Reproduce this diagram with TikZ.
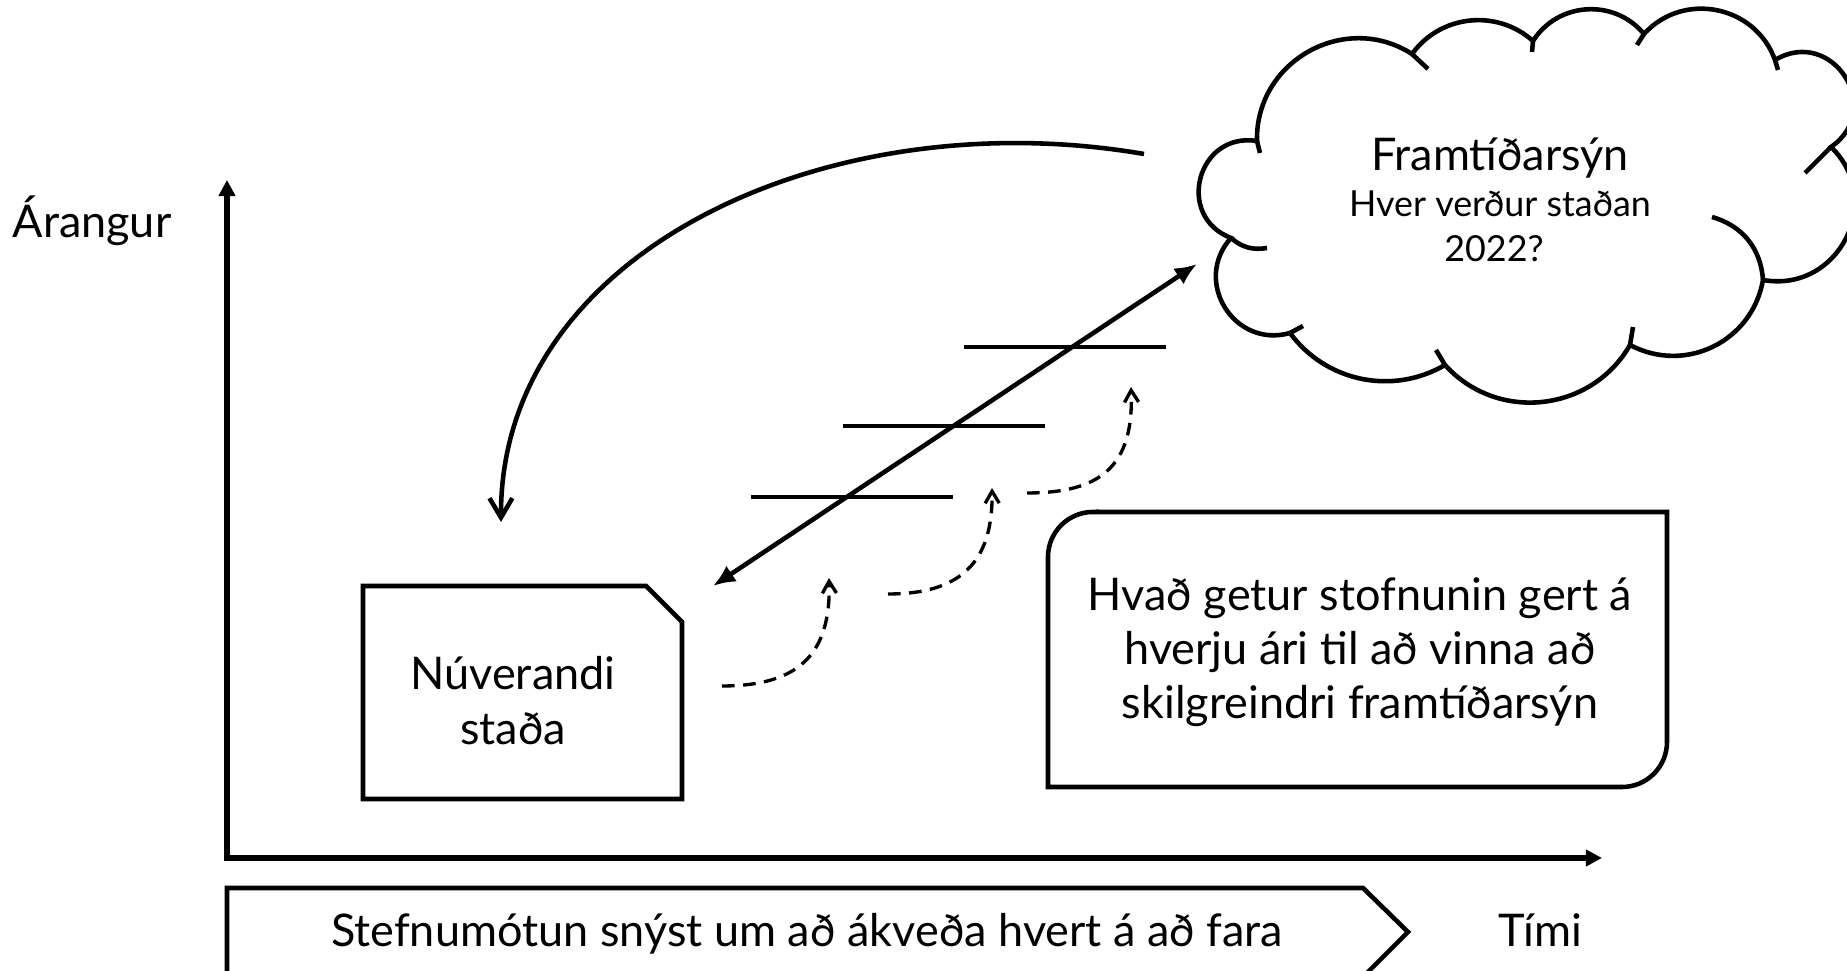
\documentclass[tikz,border=0pt]{standalone}
\usepackage{fontspec}
\setmainfont{Lato}
\usetikzlibrary{arrows.meta}
\begin{document}
\begin{tikzpicture}[x=0.01cm, y=0.01cm,
  axisline/.style={line width=1.7pt},
  shapeline/.style={line width=1.3pt},
  dashline/.style={line width=0.95pt, dash pattern=on 3.6pt off 2.4pt},
  lbl/.style={font=\fontsize{12.8}{15.4}\selectfont, inner sep=0pt, anchor=base},
  lblsmall/.style={font=\fontsize{10.2}{12.8}\selectfont, inner sep=0pt, anchor=base}]
\useasboundingbox (0,0) rectangle (1847,-971);
\clip (0,0) rectangle (1847,-971);

% axes
\coordinate (O) at (227,-858);
\coordinate (Ytop) at (227,-180);
\coordinate (Xend) at (1602,-858);
\draw[axisline, line join=miter, {Triangle[length=4.6pt,width=4.6pt]}-{Triangle[length=4.6pt,width=4.6pt]}] (Ytop) -- (O) -- (Xend);

% bottom pentagon
\draw[shapeline] (227,-888) -- (1363,-888) -- (1408,-932) -- (1364,-976) -- (227,-976) -- cycle;

% cloud
\draw[shapeline, fill=white] (1231,-238)
  to[bend left=84, looseness=1.54] (1257,-141)
  to[bend left=62, looseness=1.15] (1412,-54)
  to[bend left=48, looseness=1.02] (1533,-41)
  to[bend left=54, looseness=1.07] (1644,-34)
  to[bend left=59, looseness=1.12] (1775,-60)
  to[bend left=88, looseness=1.65] (1831,-147)
  to[bend left=73, looseness=1.31] (1763,-280)
  to[bend left=54, looseness=1.08] (1630,-345)
  to[bend left=54, looseness=1.07] (1445,-365)
  to[bend left=42, looseness=0.98] (1290,-333)
  to[bend left=74, looseness=1.33] (1231,-238) -- cycle;
% cloud inner ticks
\draw[shapeline] (1257,-141) -- (1260,-153);
\draw[shapeline] (1412,-54) -- (1428,-69);
\draw[shapeline] (1533,-41) -- (1532,-52);
\draw[shapeline] (1644,-34) -- (1637,-45);
\draw[shapeline] (1775,-60) -- (1778,-70);
\draw[shapeline] (1831,-147) -- (1805,-173);
\draw[shapeline] (1763,-280) to[bend right=35] (1712,-217);
\draw[shapeline] (1630,-345) -- (1633,-327);
\draw[shapeline] (1445,-365) -- (1436,-350);
\draw[shapeline] (1290,-333) -- (1303,-326);
\draw[shapeline] (1231,-238) to[bend right=25] (1267,-248);

% current state box
\draw[shapeline] (363,-586) -- (646,-586) -- (682,-622) -- (682,-799) -- (363,-799) -- cycle;

% rounded text box
\draw[shapeline] (1093,-512) -- (1667,-512) -- (1667,-742)
  arc[start angle=0, end angle=-90, radius=0.45cm] -- (1048,-787) -- (1048,-557)
  arc[start angle=180, end angle=90, radius=0.45cm] -- cycle;

% stairs
\draw[shapeline] (964,-347) -- (1166,-347);
\draw[shapeline] (843,-426) -- (1045,-426);
\draw[shapeline] (751,-497) -- (953,-497);

% diagonal double arrow
\coordinate (DA) at (1197,-264);
\coordinate (DB) at (713,-586);
\draw[shapeline, {Latex[length=6.3pt,width=5.4pt]}-{Latex[length=6.3pt,width=5.4pt]}] (DA) -- (DB);

% big curved arrow
\coordinate (CA) at (1144,-154);
\coordinate (CB) at (501,-522);
\draw[shapeline, -{Straight Barb[length=5.5pt,width=6.5pt]}] (CA) .. controls (830,-100) and (500,-250) .. (CB);

% dashed arrows
\coordinate (d1s) at (722,-686);
\coordinate (d1e) at (829,-578);
\coordinate (d2s) at (888,-594);
\coordinate (d2e) at (992,-488);
\coordinate (d3s) at (1027,-493);
\coordinate (d3e) at (1131,-387);
\draw[dashline, -{Straight Barb[length=3.4pt,width=4pt]}] (d1s) .. controls (799,-686) and (831,-654) .. (d1e);
\draw[dashline, -{Straight Barb[length=3.4pt,width=4pt]}] (d2s) .. controls (961,-594) and (993,-562) .. (d2e);
\draw[dashline, -{Straight Barb[length=3.4pt,width=4pt]}] (d3s) .. controls (1100,-493) and (1134,-467) .. (d3e);

% texts
\node[lbl] (arangur) at (92,-238) {Árangur};
\node[lbl] (framt) at (1500,-171) {Framtíðarsýn};
\node[lblsmall] (hver) at (1500,-217) {Hver verður staðan};
\node[lblsmall] (ar) at (1494,-262) {2022?};
\node[lbl] (nuv1) at (513,-690) {Núverandi};
\node[lbl] (nuv2) at (513,-745) {staða};
\node[lbl] (hv1) at (1360,-611) {Hvað getur stofnunin gert á};
\node[lbl] (hv2) at (1360,-665) {hverju ári til að vinna að};
\node[lbl] (hv3) at (1360,-719) {skilgreindri framtíðarsýn};
\node[lbl] (stef) at (807,-947) {Stefnumótun snýst um að ákveða hvert á að fara};
\node[lbl] (timi) at (1540,-947) {Tími};
\end{tikzpicture}
\end{document}
